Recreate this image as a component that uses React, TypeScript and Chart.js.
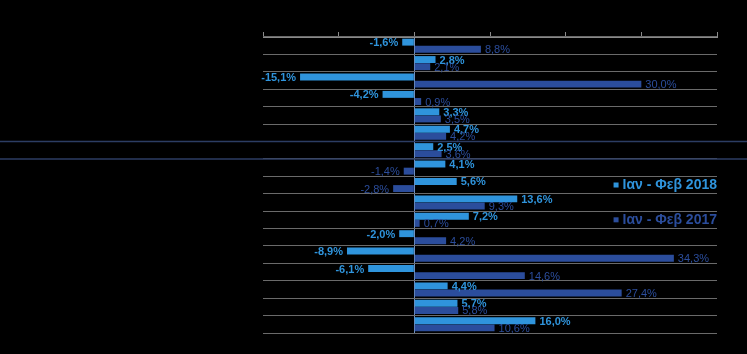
import React, { useEffect, useRef } from "react";
import { Chart, registerables } from "chart.js";

Chart.register(...registerables);

const categories = [
  "c1", "c2", "c3", "c4", "c5", "c6", "c7", "c8", "c9",
  "c10", "c11", "c12", "c13", "c14", "c15", "c16", "c17",
];
const series2018 = [-1.6, 2.8, -15.1, -4.2, 3.3, 4.7, 2.5, 4.1, 5.6, 13.6, 7.2, -2.0, -8.9, -6.1, 4.4, 5.7, 16.0];
const series2017 = [8.8, 2.1, 30.0, 0.9, 3.5, 4.2, 3.6, -1.4, -2.8, 9.3, 0.7, 4.2, 34.3, 14.6, 27.4, 5.8, 10.6];
const label2018 = "Ιαν - Φεβ 2018";
const label2017 = "Ιαν - Φεβ 2017";
const xTicks = { min: -20, max: 40, step: 10 };

const LIGHT = "#2f94dc";
const DARK = "#2b4d9c";
const FONT = "'Liberation Sans', Arial, sans-serif";

const fmt = (v: number) => v.toFixed(1).replace(".", ",") + "%";

const decoPlugin = {
  id: "deco",
  beforeDatasetsDraw(chart: any) {
    const ctx = chart.ctx;
    const y = chart.scales.y;
    ctx.save();
    ctx.strokeStyle = "#2c3d63";
    ctx.lineWidth = 1.5;
    [5, 6].forEach((i) => {
      const yy = (y.getPixelForValue(i) + y.getPixelForValue(i + 1)) / 2;
      ctx.beginPath();
      ctx.moveTo(0, yy);
      ctx.lineTo(chart.width, yy);
      ctx.stroke();
    });
    ctx.restore();
  },
  afterDatasetsDraw(chart: any) {
    const ctx = chart.ctx;
    ctx.save();
    ctx.textBaseline = "middle";
    chart.data.datasets.forEach((ds: any, di: number) => {
      const meta = chart.getDatasetMeta(di);
      ctx.fillStyle = di === 0 ? LIGHT : DARK;
      ctx.font = (di === 0 ? "bold " : "") + "11px " + FONT;
      meta.data.forEach((bar: any, i: number) => {
        const v = ds.data[i];
        const neg = v < 0;
        ctx.textAlign = neg ? "right" : "left";
        ctx.fillText(fmt(v), bar.x + (neg ? -4 : 4), bar.y + 1);
      });
    });
    ctx.restore();
  },
  afterDraw(chart: any) {
    const ctx = chart.ctx;
    const y = chart.scales.y;
    const right = chart.chartArea.right;
    ctx.save();
    ctx.textBaseline = "middle";
    ctx.textAlign = "right";
    ctx.font = "bold 14px " + FONT;
    const entries = [
      { label: chart.data.datasets[0].label, color: LIGHT, idx: 8 },
      { label: chart.data.datasets[1].label, color: DARK, idx: 10 },
    ];
    entries.forEach((e) => {
      const yy = y.getPixelForValue(e.idx) + 0.5;
      const w = ctx.measureText(e.label).width;
      ctx.fillStyle = e.color;
      ctx.fillText(e.label, right, yy);
      ctx.fillRect(right - w - 9, yy - 3, 5, 5);
    });
    ctx.restore();
  },
};

export default function App() {
  const ref = useRef<HTMLCanvasElement>(null);
  useEffect(() => {
    if (!ref.current) return;
    const chart = new Chart(ref.current, {
      type: "bar",
      data: {
        labels: categories,
        datasets: [
          { label: label2018, data: series2018, backgroundColor: LIGHT, categoryPercentage: 0.82, barPercentage: 0.97 },
          { label: label2017, data: series2017, backgroundColor: DARK, categoryPercentage: 0.82, barPercentage: 0.97 },
        ],
      },
      options: {
        indexAxis: "y",
        animation: false,
        responsive: false,
        maintainAspectRatio: false,
        layout: { padding: { left: 263, right: 30, top: 32, bottom: 21 } },
        plugins: { legend: { display: false }, tooltip: { enabled: false } },
        scales: {
          x: {
            position: "top",
            min: xTicks.min,
            max: xTicks.max,
            ticks: { display: false, stepSize: xTicks.step },
            grid: {
              drawOnChartArea: true,
              color: (c: any) => (c.tick && c.tick.value === 0 ? "#6d8fbf" : "rgba(0,0,0,0)"),
              tickColor: "#8a8a8a",
              tickLength: 5,
              lineWidth: 1,
            },
            border: { display: true, color: "#8a8a8a" },
          },
          y: {
            ticks: { display: false },
            grid: { color: "#6a6a6a", drawTicks: false, offset: true },
            border: { display: false },
          },
        },
      },
      plugins: [decoPlugin],
    });
    return () => chart.destroy();
  }, []);
  return (
    <div style={{ position: "fixed", left: 0, top: 0, width: 747, height: 354, background: "#000" }}>
      <canvas ref={ref} width={747} height={354} style={{ display: "block" }} />
    </div>
  );
}
